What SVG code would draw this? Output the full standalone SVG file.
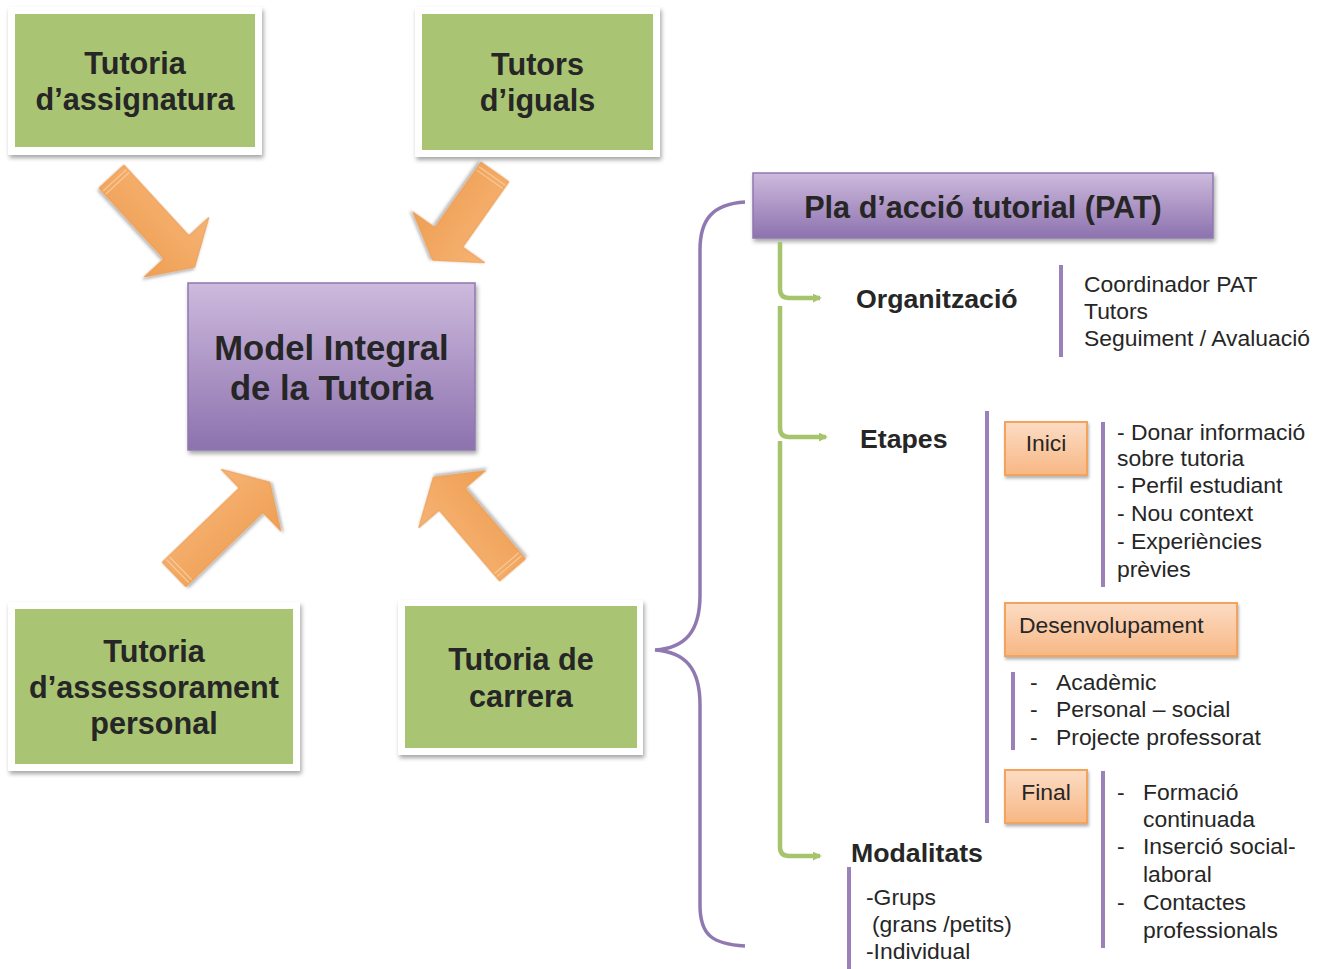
<svg xmlns="http://www.w3.org/2000/svg" width="1328" height="969" viewBox="0 0 1328 969">
  <defs>
    <filter id="shadow" x="-20%" y="-20%" width="140%" height="150%">
      <feDropShadow dx="1.5" dy="3" stdDeviation="2" flood-color="#000" flood-opacity="0.35"/>
    </filter>
    <filter id="softShadow" x="-20%" y="-20%" width="140%" height="150%">
      <feDropShadow dx="1" dy="2.5" stdDeviation="1.8" flood-color="#000" flood-opacity="0.3"/>
    </filter>
    <linearGradient id="purpleGrad" x1="0" y1="0" x2="0" y2="1">
      <stop offset="0" stop-color="#cdbadd"/>
      <stop offset="1" stop-color="#8d72ae"/>
    </linearGradient>
    <linearGradient id="orangeGrad" x1="0" y1="0" x2="0" y2="1">
      <stop offset="0" stop-color="#fcdcc4"/>
      <stop offset="1" stop-color="#f7b784"/>
    </linearGradient>
    <linearGradient id="arrowGrad" x1="0" y1="-1" x2="0" y2="1" gradientUnits="objectBoundingBox">
      <stop offset="0" stop-color="#f2a457"/>
      <stop offset="0.5" stop-color="#f6b375"/>
      <stop offset="1" stop-color="#ef9f52"/>
    </linearGradient>
    <marker id="greenHead" viewBox="0 0 10 10" refX="8" refY="5" markerWidth="9" markerHeight="9" markerUnits="userSpaceOnUse" orient="auto">
      <path d="M0,0 L10,5 L0,10 Z" fill="#a6c46b"/>
    </marker>
    <style>
      .green { fill: #a9c473; }
      .frame { fill: #ffffff; filter: url(#shadow); }
      .purple { fill: url(#purpleGrad); stroke: #8f78b0; stroke-width: 1.5; filter: url(#shadow); }
      .orange { fill: url(#orangeGrad); stroke: #f4a35c; stroke-width: 2; filter: url(#softShadow); }
      .arrow { fill: url(#arrowGrad); stroke: #eb9a4e; stroke-width: 1; filter: url(#softShadow); }
      .stripe { stroke: #f9c998; stroke-width: 1.2; fill: none; }
      .bold { font-family: "Liberation Sans", Arial, sans-serif; font-weight: bold; fill: #262626; }
      .big { font-size: 30.6px; text-anchor: middle; }
      .huge { font-size: 34.6px; text-anchor: middle; }
      .head { font-size: 26.7px; }
      .body { font-family: "Liberation Sans", Arial, sans-serif; font-size: 22.9px; fill: #262626; }
      .bar { stroke: #9a82b8; stroke-width: 4; fill: none; }
      .brace { stroke: #9079b1; stroke-width: 3.5; fill: none; }
      .link { stroke: #a6c46b; stroke-width: 4.5; fill: none; marker-end: url(#greenHead); }
    </style>
  </defs>

  <rect width="1328" height="969" fill="#ffffff"/>

  <!-- Block arrows pointing to the central model -->
  <g id="arrows">
    <g transform="translate(111.5,176.5) rotate(47.4)">
      <path class="arrow" d="M0,-17 L96,-17 L96,-44 L123,0 L96,44 L96,17 L0,17 Z"/>
      <path class="stripe" d="M5,-16 V16 M9,-16 V16"/>
    </g>
    <g transform="translate(495,172) rotate(125.2)">
      <path class="arrow" d="M0,-17 L80,-17 L80,-44 L108,0 L80,44 L80,17 L0,17 Z"/>
      <path class="stripe" d="M5,-16 V16 M9,-16 V16"/>
    </g>
    <g transform="translate(174,574.5) rotate(-44)">
      <path class="arrow" d="M0,-17 L107,-17 L107,-43 L133,0 L107,43 L107,17 L0,17 Z"/>
      <path class="stripe" d="M5,-16 V16 M9,-16 V16"/>
    </g>
    <g transform="translate(512.5,570) rotate(-130.5)">
      <path class="arrow" d="M0,-17 L93,-17 L93,-44 L122,0 L93,44 L93,17 L0,17 Z"/>
      <path class="stripe" d="M5,-16 V16 M9,-16 V16"/>
    </g>
  </g>

  <!-- Tutoring types -->
  <g id="tutoria-assignatura">
    <rect class="frame" x="8" y="7" width="254" height="148"/>
    <rect class="green" x="15" y="14" width="240" height="133"/>
    <text class="bold big" x="135" y="74">Tutoria</text>
    <text class="bold big" x="135" y="110">d’assignatura</text>
  </g>

  <g id="tutors-iguals">
    <rect class="frame" x="415" y="7" width="245" height="150"/>
    <rect class="green" x="422" y="14" width="231" height="136"/>
    <text class="bold big" x="537.5" y="75">Tutors</text>
    <text class="bold big" x="537.5" y="111">d’iguals</text>
  </g>

  <g id="tutoria-assessorament">
    <rect class="frame" x="8" y="602" width="292" height="169"/>
    <rect class="green" x="15" y="609" width="278" height="155"/>
    <text class="bold big" x="154" y="662">Tutoria</text>
    <text class="bold big" x="154" y="698">d’assessorament</text>
    <text class="bold big" x="154" y="734">personal</text>
  </g>

  <g id="tutoria-carrera">
    <rect class="frame" x="398" y="600" width="245" height="155"/>
    <rect class="green" x="405" y="606" width="232" height="142"/>
    <text class="bold big" x="521" y="670">Tutoria de</text>
    <text class="bold big" x="521" y="707">carrera</text>
  </g>

  <g id="model-integral">
    <rect class="purple" x="188" y="283" width="287" height="167"/>
    <text class="bold huge" x="331.5" y="360">Model Integral</text>
    <text class="bold huge" x="331.5" y="400">de la Tutoria</text>
  </g>

  <!-- Curly brace grouping the action plan -->
  <g id="brace">
    <path class="brace" d="M745,202 C712,204 700,220 700,250 V595 C700,632 685,648 655,650 C685,652 700,668 700,705 V905 C700,935 712,944 745,946"/>
  </g>

  <g id="pat">
    <rect class="purple" x="753" y="173" width="460" height="65"/>
    <text class="bold" x="983" y="218" style="font-size:30.6px;text-anchor:middle">Pla d’acció tutorial (PAT)</text>
  </g>

  <g id="connectors">
    <path class="link" d="M780,242 V289 Q780,298 789,298 H820"/>
    <path class="link" d="M780,306 V428 Q780,437 789,437 H826"/>
    <path class="link" d="M780,441 V847 Q780,856 789,856 H820"/>
  </g>

  <g id="organitzacio">
    <text class="bold head" x="856" y="308">Organització</text>
    <line class="bar" x1="1061" y1="265" x2="1061" y2="357"/>
    <text class="body" x="1084" y="292">Coordinador PAT</text>
    <text class="body" x="1084" y="319">Tutors</text>
    <text class="body" x="1084" y="346">Seguiment / Avaluació</text>
  </g>

  <g id="etapes">
    <text class="bold head" x="860" y="448">Etapes</text>
    <line class="bar" x1="987" y1="411" x2="987" y2="823"/>
  </g>

  <g id="inici">
    <rect class="orange" x="1005" y="422" width="82" height="53"/>
    <text class="body" x="1046" y="451" text-anchor="middle">Inici</text>
    <line class="bar" x1="1103" y1="422" x2="1103" y2="587"/>
    <text class="body" x="1117" y="440">- Donar informació</text>
    <text class="body" x="1117" y="466">sobre tutoria</text>
    <text class="body" x="1117" y="493">- Perfil estudiant</text>
    <text class="body" x="1117" y="521">- Nou context</text>
    <text class="body" x="1117" y="549">- Experiències</text>
    <text class="body" x="1117" y="577">prèvies</text>
  </g>

  <g id="desenvolupament">
    <rect class="orange" x="1005" y="603" width="232" height="53"/>
    <text class="body" x="1019" y="633">Desenvolupament</text>
    <line class="bar" x1="1013" y1="672" x2="1013" y2="750"/>
    <text class="body" x="1030" y="690">-</text>
    <text class="body" x="1056" y="690">Acadèmic</text>
    <text class="body" x="1030" y="717">-</text>
    <text class="body" x="1056" y="717">Personal – social</text>
    <text class="body" x="1030" y="745">-</text>
    <text class="body" x="1056" y="745">Projecte professorat</text>
  </g>

  <g id="final">
    <rect class="orange" x="1005" y="770" width="82" height="53"/>
    <text class="body" x="1046" y="800" text-anchor="middle">Final</text>
    <line class="bar" x1="1103" y1="771" x2="1103" y2="948"/>
    <text class="body" x="1117" y="800">-</text>
    <text class="body" x="1143" y="800">Formació</text>
    <text class="body" x="1143" y="827">continuada</text>
    <text class="body" x="1117" y="854">-</text>
    <text class="body" x="1143" y="854">Inserció social-</text>
    <text class="body" x="1143" y="882">laboral</text>
    <text class="body" x="1117" y="910">-</text>
    <text class="body" x="1143" y="910">Contactes</text>
    <text class="body" x="1143" y="938">professionals</text>
  </g>

  <g id="modalitats">
    <text class="bold head" x="851" y="862">Modalitats</text>
    <line class="bar" x1="849" y1="867" x2="849" y2="969"/>
    <text class="body" x="866" y="905">-Grups</text>
    <text class="body" x="872" y="932">(grans /petits)</text>
    <text class="body" x="866" y="959">-Individual</text>
  </g>
</svg>
